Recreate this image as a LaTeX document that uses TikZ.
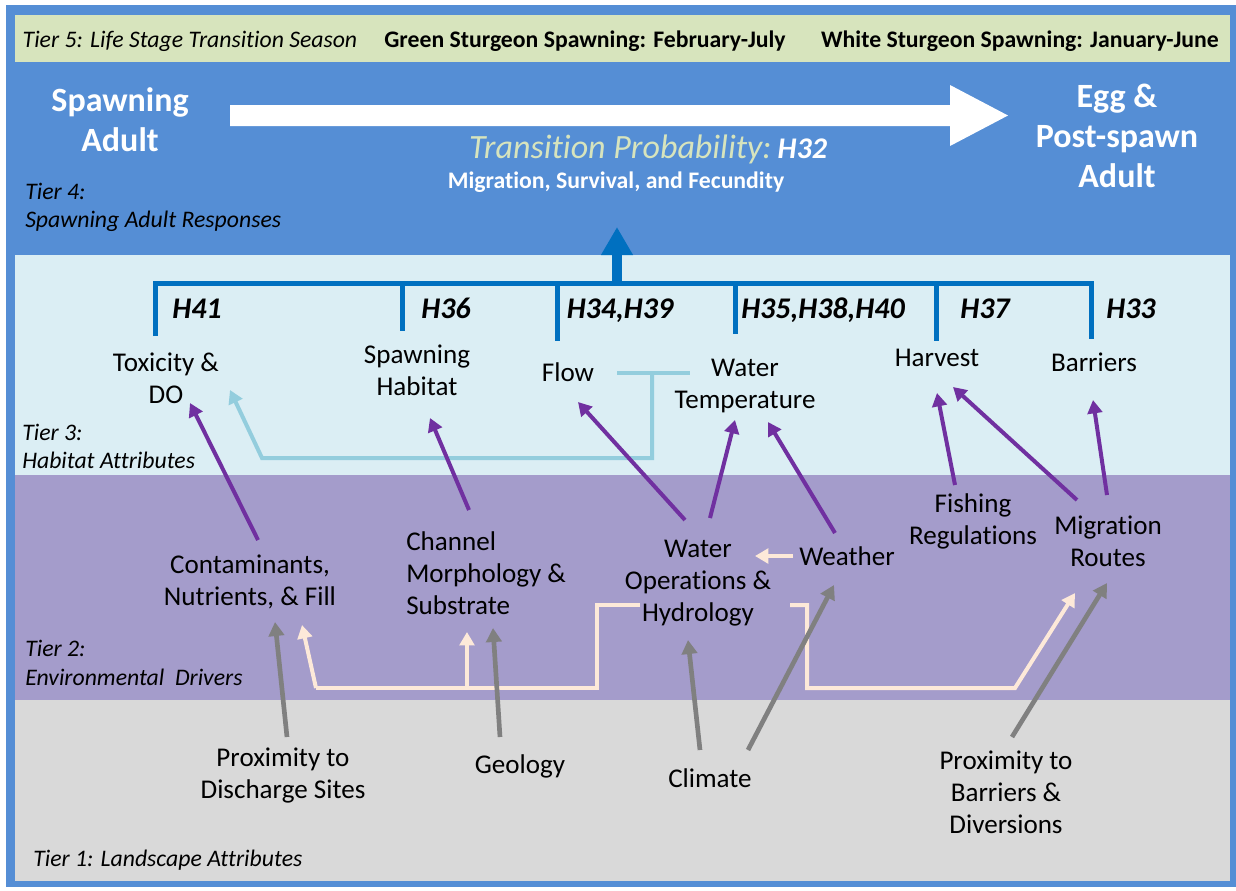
\documentclass[tikz,border=0pt]{standalone}
\usepackage{fontspec}
\setmainfont{Carlito}[Ligatures={TeX,NoCommon}]
\usetikzlibrary{arrows.meta}
\definecolor{frameblue}{RGB}{85,142,213}
\definecolor{tierthree}{RGB}{219,238,244}
\definecolor{tiertwo}{RGB}{164,156,203}
\definecolor{tierone}{RGB}{217,217,217}
\definecolor{barcol}{RGB}{215,228,189}
\definecolor{darkblue}{RGB}{0,112,192}
\definecolor{arrpurple}{RGB}{112,48,160}
\definecolor{arrgrey}{RGB}{128,128,128}
\definecolor{cream}{RGB}{253,233,217}
\definecolor{lightblue}{RGB}{147,205,221}
\begin{document}
\begin{tikzpicture}[x=0.75pt,y=-0.75pt,
  txt/.style={font=\fontsize{20.3}{24}\selectfont, align=center, inner sep=0pt, text=black},
  tierlbl/.style={font=\fontsize{17.8}{21.5}\selectfont\itshape, anchor=west, align=left, inner sep=0pt, text=black},
  hlbl/.style={font=\fontsize{22.5}{27}\selectfont\bfseries\itshape, inner sep=0pt, anchor=base, text=black},
  bigw/.style={font=\fontsize{25.5}{30}\selectfont\bfseries, text=white, align=center, inner sep=0pt},
  bartxt/.style={font=\fontsize{17.8}{20}\selectfont, anchor=base, inner sep=0pt, text=black},
  parr/.style={draw=arrpurple, line width=3pt, -{Triangle[width=11pt,length=10pt]}},
  garr/.style={draw=arrgrey, line width=3.5pt, -{Triangle[width=11.5pt,length=10.5pt]}},
  carr/.style={draw=cream, line width=3pt},
  lbarr/.style={draw=lightblue, line width=3pt},
  brk/.style={draw=darkblue, line width=3.75pt}
]
\useasboundingbox (0,0) rectangle (1236,890);
\fill[white] (0,0) rectangle (1236,890);
\fill[frameblue] (6,5) rectangle (1236,887);
\fill[barcol] (15,15) rectangle (1230,62);
\fill[tierthree] (15,255) rectangle (1230,475);
\fill[tiertwo] (15,475) rectangle (1230,700);
\fill[tierone] (15,700) rectangle (1230,881);

% Tier 5 bar
\node[bartxt] (t5) at (190,47) {\itshape Tier 5: Life Stage Transition Season};
\node[bartxt] (gs) at (585,47) {\bfseries Green Sturgeon Spawning: February-July};
\node[bartxt] (ws) at (1020,47) {\bfseries White Sturgeon Spawning: January-June};

% Tier 4
\node[bigw] (sa) at (120,120) {Spawning\\Adult};
\node[bigw] (egg) at (1117,136) {Egg \&\\Post-spawn\\Adult};
\fill[white] (230,105) -- (950,105) -- (950,85) -- (1008,115.5) -- (950,146) -- (950,126) -- (230,126) -- cycle;
\node[anchor=base, inner sep=0pt] (tp) at (648,158) {{\fontsize{25.5}{30}\selectfont\itshape\color{barcol}Transition Probability:}\ \ {\fontsize{22.5}{27}\selectfont\bfseries\itshape\color{white}H32}};
\node[anchor=base, inner sep=0pt, font=\fontsize{17.8}{20}\selectfont\bfseries, text=white] (msf) at (616,188) {Migration, Survival, and Fecundity};
\node[tierlbl] (t4) at (25,207.5) {Tier 4:\\Spawning Adult Responses};

% bracket
\draw[brk] (155,336) -- (155,283) -- (1091,283) -- (1091,339);
\draw[brk] (402,283) -- (402,331);
\draw[brk] (557,283) -- (557,341);
\draw[brk] (735,283) -- (735,334);
\draw[brk] (936,283) -- (936,341);
\draw[darkblue, line width=7.5pt, -{Triangle[width=22.5pt,length=21pt]}] (617,285) -- (617,227);

\node[hlbl] (h41) at (197,318) {H41};
\node[hlbl] (h36) at (446,318) {H36};
\node[hlbl] (h34) at (620,318) {H34,H39};
\node[hlbl] (h35) at (823,318) {H35,H38,H40};
\node[hlbl] (h37) at (985,318) {H37};
\node[hlbl] (h33) at (1131,318) {H33};

% Tier 3 nodes
\node[txt] (tox) at (166,378) {Toxicity \&\\DO};
\node[txt] (sph) at (417,370) {Spawning\\Habitat};
\node[txt] (flow) at (568,372) {Flow};
\node[txt] (wt) at (745,386) {Water\\Temperature};
\node[txt] (harv) at (937,358) {Harvest};
\node[txt] (barr) at (1094,362) {Barriers};
\node[tierlbl] (t3) at (22,446.5) {Tier 3:\\Habitat Attributes};

% Tier 2 nodes
\node[txt] (cont) at (250,582) {Contaminants,\\Nutrients, \& Fill};
\node[txt, align=left, anchor=west] (chan) at (406,573) {Channel\\Morphology \&\\Substrate};
\node[txt] (wops) at (698,583) {Water\\Operations \&\\Hydrology};
\node[txt] (weath) at (847,556) {Weather};
\node[txt] (fish) at (973,521) {Fishing\\Regulations};
\node[txt] (migr) at (1108,541) {Migration\\Routes};
\node[tierlbl] (t2) at (25,663) {Tier 2:\\Environmental\ \ Drivers};

% Tier 1 nodes
\node[txt] (prox1) at (283,776) {Proximity to\\Discharge Sites};
\node[txt] (geo) at (520,766) {Geology};
\node[txt] (clim) at (710,778) {Climate};
\node[txt] (prox2) at (1006,792) {Proximity to\\Barriers \&\\Diversions};
\node[tierlbl] (t1) at (33,860) {Tier 1: Landscape Attributes};

% light blue connector
\draw[lbarr] ([shift={(49,1)}]flow.center) -- ([shift={(-55,-13)}]wt.center);
\coordinate (lbj) at (652,373);
\draw[lbarr, -{Triangle[width=11pt,length=10pt]}] (lbj) -- (652,458) -- (262,458) -- ([shift={(64,12)}]tox.center);

% cream connectors
\draw[carr] ([shift={(-58,22)}]wops.center) -- (597,605) -- (597,688) -- (316,688) coordinate (cl);
\draw[carr, -{Triangle[width=11pt,length=10pt]}] (cl) -- ([shift={(52,43)}]cont.center);
\coordinate (cj) at (467,688);
\draw[carr, -{Triangle[width=11pt,length=10pt]}] (cj) -- ([shift={(61,59)}]chan.west);
\draw[carr, -{Triangle[width=11pt,length=10pt]}] ([shift={(92,22)}]wops.center) -- (807,605) -- (807,688) -- (1015,688) -- ([shift={(-33,52)}]migr.center);
\draw[carr, -{Triangle[width=11pt,length=10pt]}] ([shift={(-54,0)}]weath.center) -- ([shift={(57,-27)}]wops.center);

% purple arrows
\draw[parr] ([shift={(8,-42)}]cont.center) -- ([shift={(24,25)}]tox.center);
\draw[parr] ([shift={(63,-63)}]chan.west) -- ([shift={(13,48)}]sph.center);
\draw[parr] ([shift={(-13,-63)}]wops.center) -- ([shift={(10,30)}]flow.center);
\draw[parr] ([shift={(12,-65)}]wops.center) -- ([shift={(-10,34)}]wt.center);
\draw[parr] ([shift={(-12,-23)}]weath.center) -- ([shift={(23,36)}]wt.center);
\draw[parr] ([shift={(-18,-36)}]fish.center) -- ([shift={(0,35)}]harv.center);
\draw[parr] ([shift={(-31,-41)}]migr.center) -- ([shift={(16,29)}]harv.center);
\draw[parr] ([shift={(-1,-46)}]migr.center) -- ([shift={(-1,38)}]barr.center);

% grey arrows
\draw[garr] ([shift={(4,-39)}]prox1.center) -- ([shift={(25,40)}]cont.center);
\draw[garr] ([shift={(-20,-29)}]geo.center) -- ([shift={(87,55)}]chan.west);
\draw[garr] ([shift={(-10,-28)}]clim.center) -- ([shift={(-10,57)}]wops.center);
\draw[garr] ([shift={(38,-28)}]clim.center) -- ([shift={(-13,29)}]weath.center);
\draw[garr] ([shift={(6,-55)}]prox2.center) -- ([shift={(-1,42)}]migr.center);
\end{tikzpicture}
\end{document}
